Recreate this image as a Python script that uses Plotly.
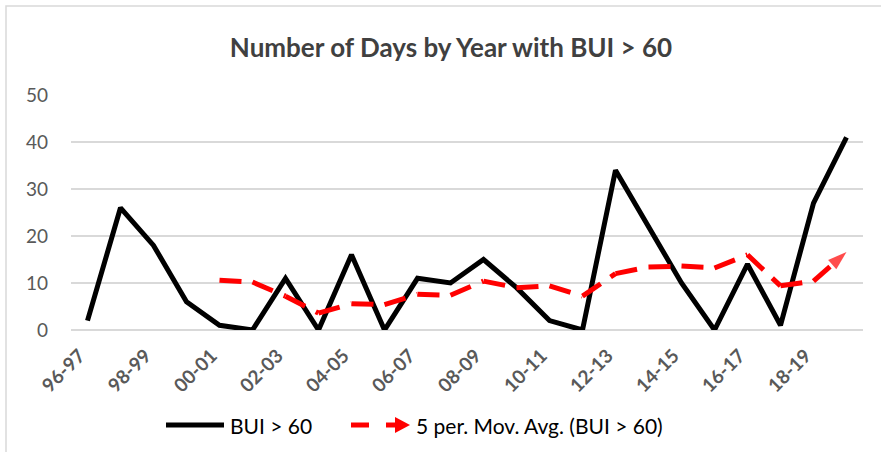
import plotly.graph_objects as go
import pandas as pd

years = ["96-97", "97-98", "98-99", "99-00", "00-01", "01-02", "02-03", "03-04",
         "04-05", "05-06", "06-07", "07-08", "08-09", "09-10", "10-11", "11-12",
         "12-13", "13-14", "14-15", "15-16", "16-17", "17-18", "18-19", "19-20"]
bui_days = [2, 26, 18, 6, 1, 0, 11, 0, 16, 0, 11, 10, 15, 9, 2, 0,
            34, 22, 10, 0, 14, 1, 27, 41]
tick_labels = years[::2]
y_ticks = [0, 10, 20, 30, 40, 50]

# 5-period moving average trendline (as Excel computes it)
mov_avg = pd.Series(bui_days, dtype=float).rolling(5).mean().tolist()
mov_avg = [None if pd.isna(v) else v for v in mov_avg]

W, H = 881, 452
L, R, T, B = 71, 18, 95, 122
PW, PH = W - L - R, H - T - B

def px(x):
    return (x - L) / PW

def py(y):
    return (H - B - y) / PH

FONT = "Lato"
GRAY = "#595959"

fig = go.Figure()
fig.add_trace(go.Scatter(
    x=years, y=bui_days, mode="lines", name="BUI > 60",
    line=dict(color="black", width=5), showlegend=False))

sizes = [0] * (len(years) - 1) + [20]
fig.add_trace(go.Scatter(
    x=years, y=mov_avg, mode="lines+markers", name="5 per. Mov. Avg. (BUI > 60)",
    line=dict(color="#ff0000", width=5, dash="22px,12px"),
    marker=dict(symbol="arrow", angleref="previous", size=sizes, color="#ff0000",
                line=dict(width=0)),
    showlegend=False))

shapes = [
    # chart area border
    dict(type="rect", xref="paper", yref="paper", x0=px(6), x1=px(W + 5), y0=py(H + 5), y1=py(6),
         line=dict(color="#d9d9d9", width=1.5), layer="below"),
    # legend samples
    dict(type="line", xref="paper", yref="paper", x0=px(166), x1=px(224), y0=py(425), y1=py(425),
         line=dict(color="black", width=5)),
    dict(type="line", xref="paper", yref="paper", x0=px(351), x1=px(369), y0=py(425), y1=py(425),
         line=dict(color="#ff0000", width=5)),
    dict(type="line", xref="paper", yref="paper", x0=px(386), x1=px(398), y0=py(425), y1=py(425),
         line=dict(color="#ff0000", width=5)),
    dict(type="path", xref="paper", yref="paper",
         path=f"M {px(395)},{py(417)} L {px(410)},{py(425)} L {px(395)},{py(433)} Z",
         fillcolor="#ff0000", line=dict(color="#ff0000", width=0)),
]

annotations = [
    dict(text="BUI > 60", xref="paper", yref="paper", x=px(228), y=py(425),
         xanchor="left", yanchor="middle", showarrow=False,
         font=dict(family=FONT, size=21, color="black")),
    dict(text="5 per. Mov. Avg. (BUI > 60)", xref="paper", yref="paper", x=px(414), y=py(425),
         xanchor="left", yanchor="middle", showarrow=False,
         font=dict(family=FONT, size=21, color="black")),
]

fig.update_layout(
    width=W, height=H, autosize=False,
    margin=dict(l=L, r=R, t=T, b=B),
    paper_bgcolor="white", plot_bgcolor="white",
    title=dict(text="<b>Number of Days by Year with BUI > 60</b>", x=451 / W, xref="container",
               xanchor="center", y=1 - 48 / H, yanchor="middle",
               font=dict(family=FONT, size=26, color="#404040")),
    xaxis=dict(type="category", categoryorder="array", categoryarray=years,
               range=[-0.5, len(years) - 0.5], tickmode="array", tickvals=tick_labels,
               ticktext=tick_labels, tickangle=-45, showgrid=False, showline=False,
               zeroline=False, ticks="", automargin=False,
               ticklabelshift=-8, ticklabelstandoff=10,
               tickfont=dict(family=FONT, size=19, color=GRAY, weight="bold")),
    yaxis=dict(range=[0, 50], tickmode="array", tickvals=y_ticks, showgrid=True,
               gridcolor="#d9d9d9", gridwidth=1.5, zeroline=True, zerolinecolor="#d9d9d9",
               zerolinewidth=1.5, showline=False, ticks="", automargin=False,
               ticklabelstandoff=22, fixedrange=True,
               tickfont=dict(family=FONT, size=19, color=GRAY)),
    shapes=shapes, annotations=annotations, showlegend=False,
)

fig.write_html("out.html", config={"displayModeBar": False, "staticPlot": True},
               post_script="document.body.style.margin='0px';document.body.style.padding='0px';")
